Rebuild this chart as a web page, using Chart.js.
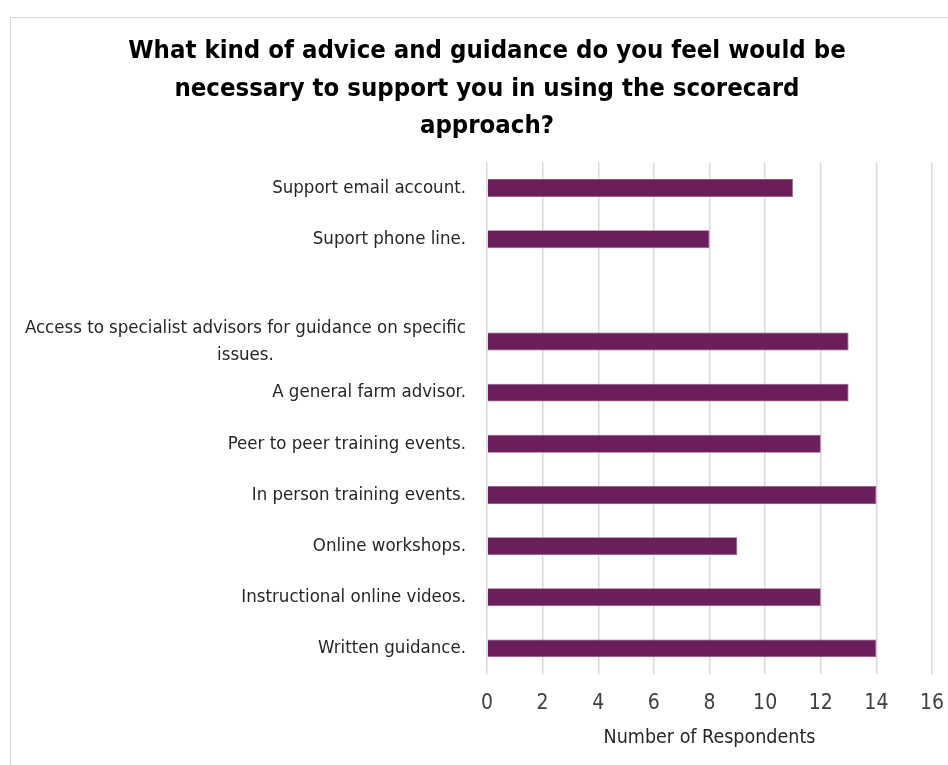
<!DOCTYPE html>
<html>
<head>
<meta charset="utf-8">
<script src="https://cdn.jsdelivr.net/npm/chart.js@4.4.1/dist/chart.umd.min.js"></script>
<style>
  html, body { margin: 0; padding: 0; background: #fff; }
  #wrap { position: relative; width: 948px; height: 765px; overflow: hidden; }
  #frame {
    position: absolute; left: 10px; top: 17px; right: -5px; bottom: -5px;
    border-left: 1.5px solid #d9d9d9; border-top: 1.5px solid #d9d9d9;
  }
  #chart { position: absolute; left: 0; top: 0; }
</style>
</head>
<body>
<div id="wrap">
  <div id="frame"></div>
  <canvas id="chart" width="948" height="765"></canvas>
</div>
<script>
// Chart data
const categories = [
  'Support email account.',
  'Suport phone line.',
  '',
  ['Access to specialist advisors for guidance on specific', 'issues.'],
  'A general farm advisor.',
  'Peer to peer training events.',
  'In person training events.',
  'Online workshops.',
  'Instructional online videos.',
  'Written guidance.'
];
const respondents = [11, 8, null, 13, 13, 12, 14, 9, 12, 14];
const xTicks = [0, 2, 4, 6, 8, 10, 12, 14, 16];

const chartTitle = [
  'What kind of advice and guidance do you feel would be',
  'necessary to support you in using the scorecard',
  'approach?'
];
const xTitle = 'Number of Respondents';

const FONT = '"Liberation Sans Narrow", "DejaVu Sans Condensed", "Open Sans", sans-serif';

// draws the category labels: single lines right-aligned, wrapped lines centred on their block
const labelPlugin = {
  id: 'catLabels',
  afterDraw(chart) {
    const scale = chart.scales.y;
    const ctx = chart.ctx;
    const size = 18.5;
    const lineH = 27;
    const right = scale.right - 21;
    ctx.save();
    ctx.font = size + 'px ' + FONT;
    ctx.fillStyle = '#262626';
    ctx.textBaseline = 'middle';
    ctx.textAlign = 'center';
    categories.forEach((lab, i) => {
      const lines = Array.isArray(lab) ? lab : [lab];
      if (!lines[0]) return;
      const w = Math.max(...lines.map(l => ctx.measureText(l).width));
      const cx = right - w / 2;
      const yc = scale.getPixelForValue(i);
      const y0 = yc - (lines.length - 1) * lineH / 2;
      lines.forEach((l, k) => ctx.fillText(l, cx, y0 + k * lineH));
    });
    ctx.restore();
  }
};

const ctx = document.getElementById('chart').getContext('2d');
new Chart(ctx, {
  type: 'bar',
  data: {
    labels: categories,
    datasets: [{
      data: respondents,
      backgroundColor: '#6a1f5a',
      borderColor: '#8c5a83',
      borderWidth: 0.8,
      barPercentage: 0.35,
      categoryPercentage: 1
    }]
  },
  plugins: [labelPlugin],
  options: {
    indexAxis: 'y',
    responsive: false,
    animation: false,
    layout: { padding: { left: 26, right: 0, top: 0, bottom: 0 } },
    plugins: {
      legend: { display: false },
      tooltip: { enabled: false },
      title: {
        display: true,
        text: chartTitle,
        color: '#000',
        font: { family: FONT, size: 25.5, weight: 'bold', lineHeight: 1.47 },
        padding: { top: 33, bottom: 17 }
      }
    },
    scales: {
      y: {
        offset: true,
        grid: { display: false },
        border: { display: false },
        ticks: { display: false },
        afterFit(scale) { scale.width = 461; }
      },
      x: {
        min: 0,
        max: 16,
        afterBuildTicks(scale) { scale.ticks = xTicks.map(v => ({ value: v })); },
        afterFit(scale) {
          scale.height = 91;
          scale.paddingLeft = 0;
          scale.paddingRight = 16;
        },
        grid: { color: '#d9d9d9', lineWidth: 1.5, drawTicks: false },
        border: { display: false },
        ticks: {
          color: '#404040',
          font: { family: FONT, size: 21 },
          padding: 17
        },
        title: {
          display: true,
          text: xTitle,
          color: '#262626',
          font: { family: FONT, size: 19.5 },
          padding: { top: 9, bottom: 15 }
        }
      }
    }
  }
});
</script>
</body>
</html>
